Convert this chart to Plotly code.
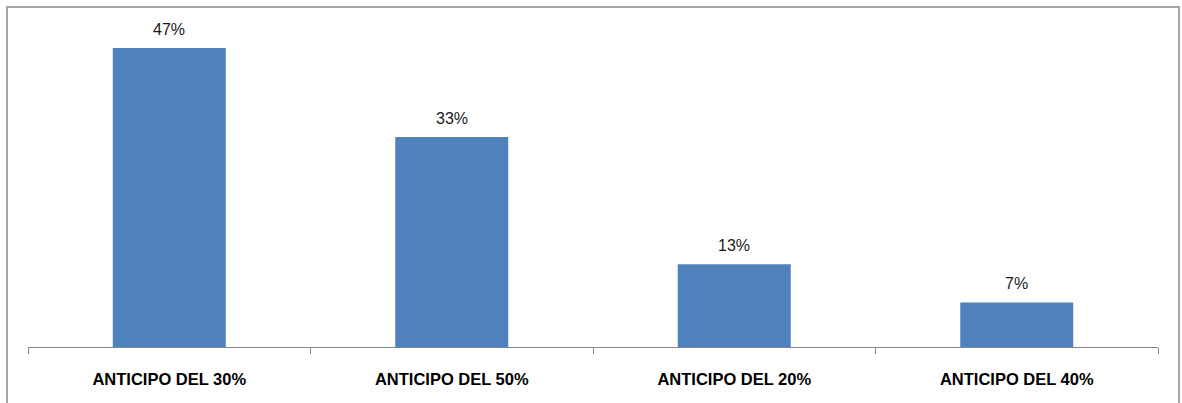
import plotly.graph_objects as go

categories = ["ANTICIPO DEL 30%", "ANTICIPO DEL 50%", "ANTICIPO DEL 20%", "ANTICIPO DEL 40%"]
values = [47, 33, 13, 7]

bar_color = "#4F81BD"
axis_color = "#868686"

fig = go.Figure(
    go.Bar(
        x=categories,
        y=values,
        marker=dict(color=bar_color, line=dict(width=0)),
        hoverinfo="skip",
    )
)

# value labels above each bar
for cat, val in zip(categories, values):
    fig.add_annotation(
        x=cat, y=val, text=f"{val}%", showarrow=False,
        yanchor="bottom", yshift=8,
        font=dict(family="Liberation Sans", size=16, color="#1A1A1A"),
    )

# chart frame
fig.add_shape(
    type="rect", xref="paper", yref="paper",
    x0=-21 / 1130, x1=1151 / 1130, y0=-0.3, y1=(347 - 7) / 318,
    line=dict(color="#A6A6A6", width=2), fillcolor="rgba(0,0,0,0)",
    layer="below",
)

fig.update_layout(
    width=1182, height=403,
    margin=dict(l=28, r=24, t=29, b=56),
    paper_bgcolor="white", plot_bgcolor="white",
    bargap=0.6,
    showlegend=False,
    xaxis=dict(
        showline=True, linecolor=axis_color, linewidth=1,
        ticks="outside", tickson="boundaries", ticklen=6, tickcolor=axis_color,
        ticklabelstandoff=17,
        tickfont=dict(family="Liberation Sans", size=16.5, color="#000000", weight="bold"),
        showgrid=False, zeroline=False,
    ),
    yaxis=dict(
        range=[0, 50], visible=False, showgrid=False, zeroline=False,
    ),
)

fig.write_html("out.html")
